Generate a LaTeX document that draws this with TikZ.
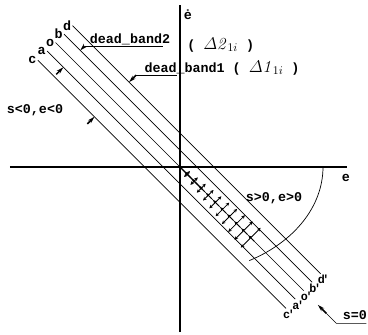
\documentclass[tikz,border=0pt]{standalone}
\usepackage{amsmath,amssymb}
\usepackage{fontspec}
\newfontfamily\labelfont{Liberation Mono}
\usetikzlibrary{arrows.meta}

\begin{document}
\begin{tikzpicture}[x=0.03cm,y=0.03cm,
		lbl/.style={font=\labelfont\bfseries\fontsize{11.4}{13}\selectfont, inner sep=1pt},
		endlbl/.style={lbl, font=\labelfont\bfseries\fontsize{10}{11}\selectfont, inner sep=0pt},
		bandline/.style={line width=0.6pt},
		wedge/.style={line width=1.3pt,-{Stealth[length=6pt,width=3.5pt]}},
		field/.style={line width=0.7pt,{Stealth[length=3pt,width=3pt]}-{Stealth[length=3pt,width=3pt]}},
		slide/.style={line width=0.9pt,-{Stealth[length=3pt,width=3pt]}}]
\useasboundingbox (-180,-167) rectangle (188,167);
\draw[line width=1.5pt] (-170,0) coordinate (eleft) -- (167,0) coordinate (eright);
				\draw[line width=1.5pt] (0,-165) coordinate (ebot) -- (0,162) coordinate (etop);
				\node[lbl] (edot) at (8,152) {ė};
				\node[lbl] (elbl) at (166,-11) {e};
				
				\begin{scope}[rotate=-45]
				\foreach \n/\v in {c/-25,a/-12,o/0,b/12,d/24} {
\coordinate (\n top) at (-176,\v); \coordinate (\n bot) at (175,\v);
\draw[bandline] (\n top) -- (\n bot);
\node[lbl, anchor=east] (\n lbl) at (\n top) {\n};
\node[endlbl, anchor=north, xshift=2.5pt, yshift=-1pt] (\n plbl) at (\n bot) {\n\kern-2pt'};
				}
				
				\foreach \u in {10,20,...,100} {
\pgfmathsetmacro\w{3+0.11*\u}
\draw[field] (\u,-\w) -- (\u,\w); \draw[slide] (\u+5,0) -- (\u-3,0);
				}
				\draw[line width=1.2pt] (0,0) -- (32,0);
				
				\draw[wedge] (-153,18) coordinate (btail) -- (-153,12);
				\draw[wedge] (-153,-22) -- (-153,-12);
				\draw[wedge] (-96,34) coordinate (dtail) -- (-96,24);
				\draw[wedge] (-96,-35) -- (-96,-25);
				\draw[wedge] (207,0) coordinate (stail) -- (195,0);
				\end{scope}
				
				\draw[line width=0.4pt] (btail) -- ++(78,0);
				\node[lbl, anchor=base west] (band2) at ([shift={(4,3)}]btail) {dead\_band2};
				\node[lbl, anchor=base west] (delta2) at (6,118) {( {\Large$\varDelta\mathit{2}_{\,1i}$} )};
				\draw[line width=0.4pt] (dtail) -- ++(41,0);
				\node[lbl, anchor=base west] (band1) at ([shift={(7,3)}]dtail) {dead\_band1 ( {\Large$\varDelta\mathit{1}_{\,1i}$} )};
				
				\draw[line width=0.4pt] (stail) -- ++(10,-10) coordinate (sknee) -- ++(30,0);
				\node[lbl, anchor=base west] (szero) at ([shift={(5,4)}]sknee) {s=0};
				
				\node[lbl] (sneg) at (-145,57) {s<0,e<0};
				\node[lbl] (spos) at (94,-31) {s>0,e>0};
				
\draw[bandline] (143,0) arc[start angle=0, end angle=-61, x radius=143, y radius=107];
		\end{tikzpicture}
\end{document}
